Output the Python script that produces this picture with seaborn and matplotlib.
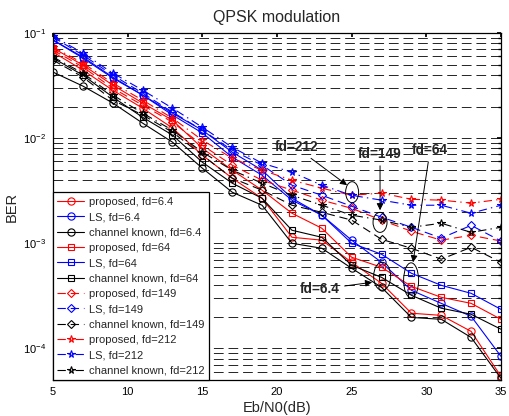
import numpy as np
import pandas as pd
import matplotlib
matplotlib.use("Agg")
import matplotlib.pyplot as plt
from matplotlib.patches import Ellipse
import seaborn as sns

sns.set_theme(style="white")
plt.rcParams["font.family"] = ["Liberation Sans", "DejaVu Sans"]
plt.rcParams["lines.scale_dashes"] = False

# Eb/N0 grid (dB)
snr = [5, 7, 9, 11, 13, 15, 17, 19, 21, 23, 25, 27, 29, 31, 33, 35]

# fd = 6.4
prop_64a = [0.0659, 0.0444, 0.0286, 0.0193, 0.0125, 0.00689, 0.00416, 0.00268,
            0.00114, 0.00107, 0.000659, 0.000416, 0.000216, 0.000206, 0.000145, 0.0000541]
ls_64a = [0.0858, 0.0591, 0.0381, 0.0257, 0.0173, 0.0119, 0.00736, 0.00496,
          0.00268, 0.00185, 0.00107, 0.000659, 0.000357, 0.000268, 0.000202, 0.0000839]
known_64a = [0.0425, 0.0313, 0.0216, 0.0139, 0.00916, 0.00518, 0.00306, 0.0023,
             0.0010, 0.000896, 0.000578, 0.000381, 0.000197, 0.000189, 0.000127, 0.0000518]

# fd = 64
prop_64 = [0.072, 0.0496, 0.032, 0.0216, 0.0148, 0.00803, 0.00496, 0.0032,
           0.00193, 0.00139, 0.000736, 0.000591, 0.000389, 0.000306, 0.000268, 0.000189]
ls_64 = [0.0858, 0.0578, 0.0373, 0.0257, 0.0166, 0.0112, 0.0066, 0.00444,
         0.00257, 0.00185, 0.0010, 0.000786, 0.000518, 0.000398, 0.000334, 0.000235]
known_64 = [0.0578, 0.0398, 0.0246, 0.0158, 0.0107, 0.0059, 0.00373, 0.00268,
            0.00133, 0.00114, 0.000617, 0.000474, 0.00032, 0.000241, 0.000211, 0.000152]

# fd = 149
prop_149 = [0.0689, 0.0474, 0.0299, 0.0206, 0.0142, 0.00858, 0.00553, 0.00398,
            0.0032, 0.00257, 0.00215, 0.00166, 0.0013, 0.00107, 0.00119, 0.00105]
ls_149 = [0.0916, 0.0617, 0.0398, 0.0268, 0.0177, 0.0119, 0.00769, 0.00553,
          0.00357, 0.00286, 0.00225, 0.00177, 0.00142, 0.00112, 0.00148, 0.00105]
known_149 = [0.0553, 0.0381, 0.023, 0.0166, 0.0114, 0.00689, 0.00416, 0.0032,
             0.0023, 0.00197, 0.00166, 0.00109, 0.000896, 0.000705, 0.000916, 0.000659]

# fd = 212
prop_212 = [0.0736, 0.0518, 0.0334, 0.023, 0.0155, 0.00957, 0.00645, 0.00496,
            0.00398, 0.00334, 0.00286, 0.0030, 0.00262, 0.00257, 0.00241, 0.00262]
ls_212 = [0.0936, 0.0645, 0.0416, 0.0286, 0.0193, 0.0127, 0.00819, 0.00578,
          0.00474, 0.00357, 0.00286, 0.00257, 0.0023, 0.0023, 0.00193, 0.0023]
known_212 = [0.0591, 0.0416, 0.0257, 0.0173, 0.0119, 0.00736, 0.00496, 0.00373,
             0.00286, 0.0023, 0.00185, 0.00166, 0.00142, 0.00155, 0.00127, 0.00142]

series = [
    ("proposed, fd=6.4", prop_64a, "red", "o", "-"),
    ("LS, fd=6.4", ls_64a, "blue", "o", "-"),
    ("channel known, fd=6.4", known_64a, "black", "o", "-"),
    ("proposed, fd=64", prop_64, "red", "s", "-"),
    ("LS, fd=64", ls_64, "blue", "s", "-"),
    ("channel known, fd=64", known_64, "black", "s", "-"),
    ("proposed, fd=149", prop_149, "red", "D", "--"),
    ("LS, fd=149", ls_149, "blue", "D", "--"),
    ("channel known, fd=149", known_149, "black", "D", "--"),
    ("proposed, fd=212", prop_212, "red", "*", "-."),
    ("LS, fd=212", ls_212, "blue", "*", "-."),
    ("channel known, fd=212", known_212, "black", "*", "-."),
]

fig = plt.figure(figsize=(5.09, 4.16), dpi=100)
ax = fig.add_axes([0.1041, 0.0865, 0.8802, 0.8341])

for name, vals, col, mk, ls in series:
    df = pd.DataFrame({"snr": snr, "ber": vals})
    ms = {"o": 5.2, "s": 5.0, "D": 3.8, "*": 5.5}[mk]
    sns.lineplot(data=df, x="snr", y="ber", ax=ax, color=col, marker=mk,
                 markersize=ms, markerfacecolor="none", markeredgecolor=col,
                 markeredgewidth=0.8, linewidth=0.8, linestyle=ls,
                 dashes=False, label=name)

for ln, (_, _, _, _, ls) in zip(ax.get_lines(), series):
    if ls == "--":
        ln.set_dashes((6, 3.5))
    elif ls == "-.":
        ln.set_dashes((6, 3, 1, 3))

ax.set_yscale("log")
ax.set_xlim(5, 35)
ax.set_ylim(5e-5, 1e-1)
ax.set_xticks([5, 10, 15, 20, 25, 30, 35])

ax.grid(False)
ax.yaxis.grid(True, which="both", color="black", linewidth=0.6, linestyle=(0, (7, 3.5)))
ax.tick_params(axis="both", which="both", direction="in", top=True, right=True,
               labelsize=8, colors="black", length=3)
ax.tick_params(axis="y", which="minor", length=2)
ax.tick_params(axis="both", which="major", pad=5)
for sp in ax.spines.values():
    sp.set_color("black")
    sp.set_linewidth(0.9)

ax.set_title("QPSK modulation", fontsize=11.5, pad=8)
ax.set_xlabel("Eb/N0(dB)", fontsize=10.5, labelpad=3)
ax.set_ylabel("BER", fontsize=10.5, labelpad=3)

leg = ax.legend(loc="lower left", bbox_to_anchor=(0, 0), borderaxespad=0,
                fontsize=8, frameon=True, fancybox=False, handlelength=2.4,
                handletextpad=0.4, labelspacing=0.48, borderpad=0.4)
leg.get_frame().set_edgecolor("black")
leg.get_frame().set_linewidth(0.9)
leg.get_frame().set_alpha(1)

# annotations
bold = dict(fontsize=9.8, fontweight="bold")
arrow = dict(arrowstyle="-|>", color="black", lw=0.7, mutation_scale=10, shrinkA=1, shrinkB=0)
ax.annotate("fd=212", xy=(24.69, 0.00357), xytext=(21.28, 0.0082), ha="center", va="center",
            arrowprops=arrow, **bold)
ax.annotate("fd=149", xy=(26.9, 0.00206), xytext=(26.9, 0.00704), ha="center", va="center",
            arrowprops=arrow, **bold)
ax.annotate("fd=64", xy=(29.11, 0.000659), xytext=(30.25, 0.00769), ha="center", va="center",
            arrowprops=arrow, **bold)
ax.annotate("fd=6.4", xy=(26.37, 0.000425), xytext=(22.88, 0.000365), ha="center", va="center",
            arrowprops=arrow, **bold)

to_axes = ax.transScale + ax.transLimits
for cx, cy, w, h in [(25.03, 0.00306, 13, 21), (26.9, 0.00158, 14, 20),
                     (28.98, 0.000444, 15, 35), (27.04, 0.000485, 17, 28)]:
    c = to_axes.transform((cx, cy))
    ax.add_patch(Ellipse(c, w / 448, h / 347, transform=ax.transAxes,
                         fill=False, edgecolor="black", linewidth=0.7, zorder=5))

fig.savefig("out.png", dpi=100)
